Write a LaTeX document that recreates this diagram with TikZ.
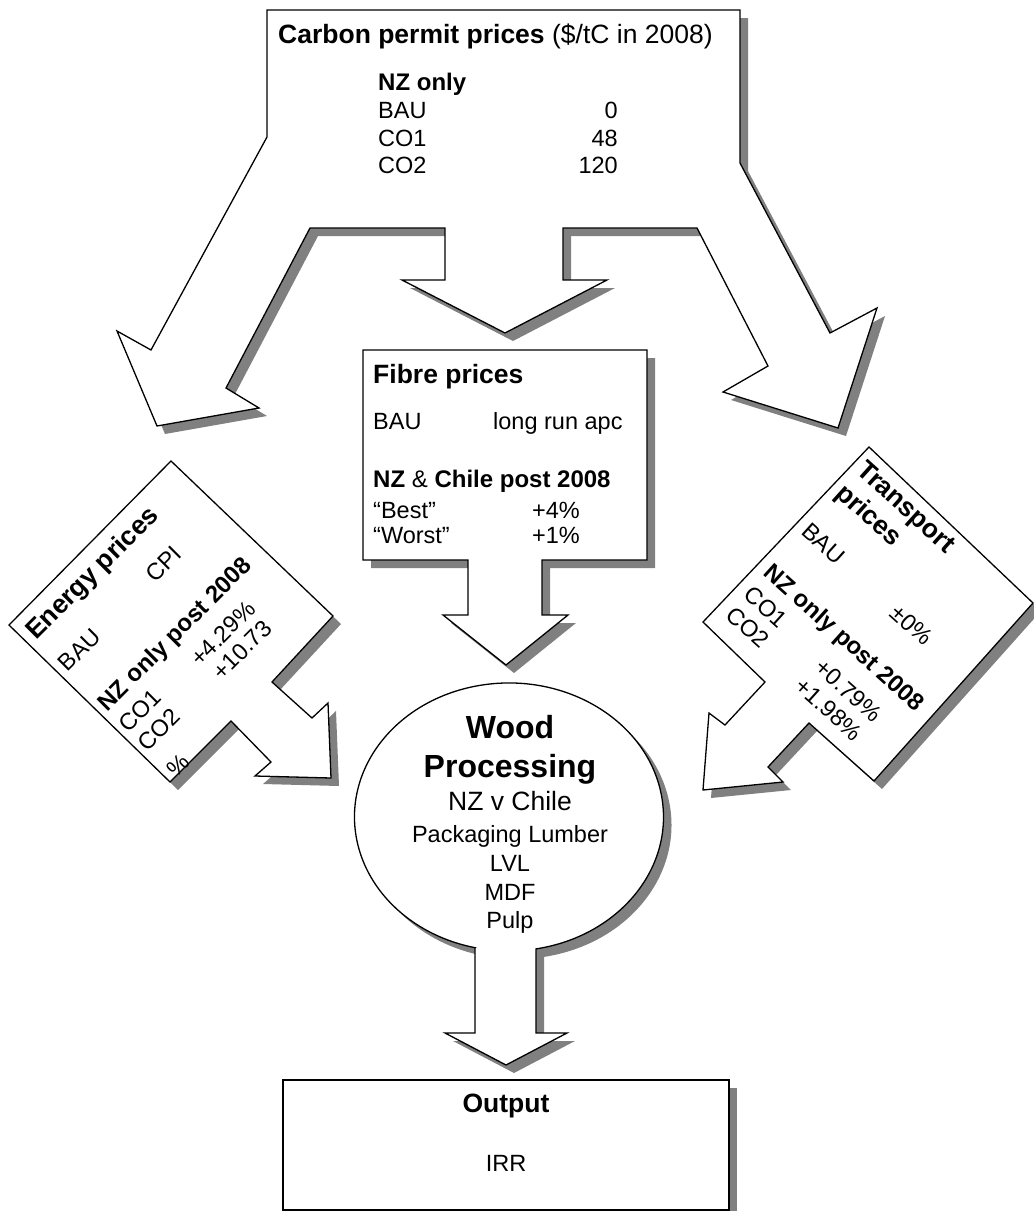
\documentclass[tikz,border=0pt]{standalone}
\usepackage{fontspec}
\setmainfont{Liberation Sans}
\definecolor{shadowgray}{HTML}{808080}
\tikzset{
  shadowfill/.style={fill=shadowgray, draw=none},
  calloutshape/.style={fill=white, draw=black, line width=1.3pt, line join=miter},
  hdr/.style={font=\fontsize{26.5}{32}\selectfont\bfseries, inner sep=0pt, anchor=base west},
  subhdr/.style={font=\fontsize{24}{29}\selectfont\bfseries, inner sep=0pt, anchor=base west},
  txt/.style={font=\fontsize{23.5}{28}\selectfont, inner sep=0pt, anchor=base west},
  txtr/.style={font=\fontsize{23.5}{28}\selectfont, inner sep=0pt, anchor=base east},
  ctr/.style={inner sep=0pt, anchor=base},
}
\newcommand\carbonpath[1]{\path[#1] (267,10) -- (740,10) -- (740,163) -- (830,333) -- (877,308) -- (838,428) -- (723,392) -- (768,366) -- (697,228) -- (563,228) -- (563,280) -- (607,280) -- (505,333) -- (402,280) -- (445,280) -- (445,228) -- (310,228) -- (226,388) -- (259,408) -- (157,426) -- (117,331) -- (151,350) -- (267,137) -- cycle;}
\newcommand\fibrepath[1]{\path[#1] (363,350) -- (647,350) -- (647,560) -- (542,560) -- (542,615) -- (568,615) -- (506,665) -- (443,615) -- (468,615) -- (468,560) -- (363,560) -- cycle;}
\newcommand\energypath[1]{\path[#1] (171,461) -- (333,616) -- (272,682) -- (312,718) -- (328,703) -- (331,778) -- (255,776) -- (271,762) -- (231,721) -- (170,782) -- (9,625) -- cycle;}
\newcommand\transportpath[1]{\path[#1] (869,447) -- (1033,603) -- (874,781) -- (809,723) -- (768,767) -- (783,782) -- (703,790) -- (709,713) -- (725,725) -- (765,682) -- (703,622) -- cycle;}
\newcommand\woodpath[1]{\path[#1] (475,947.7) -- (475,1033) -- (445,1033) -- (506,1065) -- (567,1033) -- (536,1033) -- (536,948.9) arc[start angle=79.93, end angle=-257.3, x radius=154.5, y radius=134] -- cycle;}
\newcommand\outputpath[1]{\path[#1] (283,1080) rectangle (729,1210);}
\begin{document}
\begin{tikzpicture}[x=1pt,y=-1pt]
\useasboundingbox (0,0) rectangle (1034,1211);
% shapes with shadows
\carbonpath{shadowfill, shift={(8,8)}}
\carbonpath{calloutshape}
\fibrepath{shadowfill, shift={(8,8)}}
\fibrepath{calloutshape}
\energypath{shadowfill, shift={(8,8)}}
\energypath{calloutshape}
\transportpath{shadowfill, shift={(8,8)}}
\transportpath{calloutshape}
\woodpath{shadowfill, shift={(8,8)}}
\woodpath{calloutshape}
\outputpath{shadowfill, shift={(8,8)}}
\outputpath{calloutshape}
% carbon text
\node[hdr] (ctitle) at (278,43) {Carbon permit prices \normalfont(\$/tC in 2008)};
\node[subhdr] (cnz) at (378,90) {NZ only};
\node[txt] (cbau) at (378,118) {BAU};
\node[txt] (cco1) at (378,146) {CO1};
\node[txt] (cco2) at (378,173) {CO2};
\node[txtr] (cv0) at (618,118) {0};
\node[txtr] (cv1) at (618,146) {48};
\node[txtr] (cv2) at (618,173) {120};
% fibre text
\node[hdr] (ftitle) at (373,383) {Fibre prices};
\node[txt] (fbau) at (373,429) {BAU};
\node[txt] (flr) at (493,429) {long run apc};
\node[subhdr] (fnz) at (373,487) {NZ \normalfont\&\bfseries{} Chile post 2008};
\node[txt] (fbest) at (373,518) {“Best”};
\node[txt] (fv1) at (532,518) {+4\%};
\node[txt] (fworst) at (373,543) {“Worst”};
\node[txt] (fv2) at (532,543) {+1\%};
% energy text
\begin{scope}[shift={(36,641)}, rotate=45, transform shape]
  \node[hdr] (etitle) at (0,0) {Energy prices};
  \node[txt] (ebau) at (0,45) {BAU};
  \node[txt] (ecpi) at (125,44) {CPI};
  \node[subhdr] (enz) at (0,101) {NZ only post 2008};
  \node[txt] (eco1) at (0,131) {CO1};
  \node[txt] (ev1) at (97,135) {+4.29\%};
  \node[txt] (eco2) at (0,158) {CO2};
  \node[txt] (ev2) at (103,160) {+10.73};
  \node[txt] (epct) at (2,197) {\%};
\end{scope}
% transport text
\begin{scope}[shift={(855,472)}, rotate=-42, transform shape]
  \node[hdr] (ttitle) at (0,0) {Transport};
  \node[hdr] (tprices) at (0,31) {prices};
  \node[txt] (tbau) at (0,82) {BAU};
  \node[txt] (tzero) at (121,84) {±0\%};
  \node[subhdr] (tnz) at (0,138) {NZ only post 2008};
  \node[txt] (tco1) at (0,168) {CO1};
  \node[txt] (tv1) at (101,175) {+0.79\%};
  \node[txt] (tco2) at (0,195) {CO2};
  \node[txt] (tv2) at (99,202) {+1.98\%};
\end{scope}
% wood text
\node[ctr, font=\fontsize{32}{38}\selectfont\bfseries] (wwood) at (510,738) {Wood};
\node[ctr, font=\fontsize{32}{38}\selectfont\bfseries] (wproc) at (510,777) {Processing};
\node[ctr, font=\fontsize{26.5}{32}\selectfont] (wnz) at (510,810) {NZ v Chile};
\node[ctr, font=\fontsize{23.5}{28}\selectfont] (wpack) at (510,842) {Packaging Lumber};
\node[ctr, font=\fontsize{23.5}{28}\selectfont] (wlvl) at (510,871) {LVL};
\node[ctr, font=\fontsize{23.5}{28}\selectfont] (wmdf) at (510,900) {MDF};
\node[ctr, font=\fontsize{23.5}{28}\selectfont] (wpulp) at (510,928) {Pulp};
% output text
\node[ctr, font=\fontsize{26.5}{32}\selectfont\bfseries] (otitle) at (506,1112) {Output};
\node[ctr, font=\fontsize{23.5}{28}\selectfont] (oirr) at (506,1171) {IRR};
\end{tikzpicture}
\end{document}
